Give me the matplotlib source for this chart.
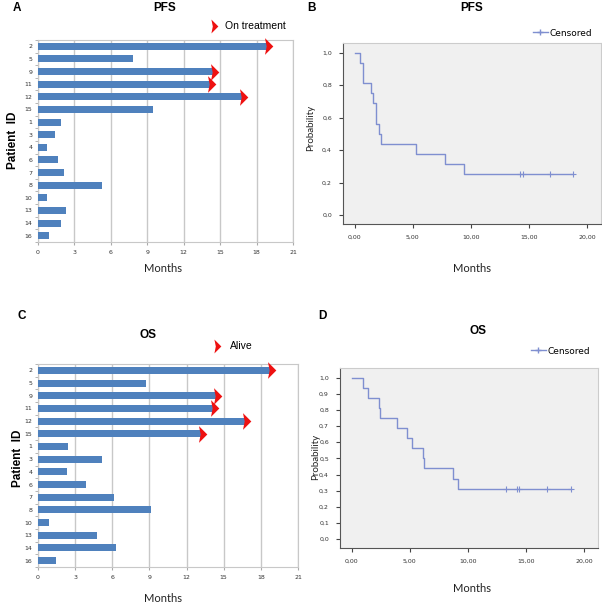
import numpy as np
import matplotlib.pyplot as plt
from matplotlib.path import Path
from matplotlib.lines import Line2D

# swimmer plot data (months)
patient_ids = ['2', '5', '9', '11', '12', '15', '1', '3', '4', '6', '7', '8', '10', '13', '14', '16']
pfs_months = [18.85, 7.84, 14.45, 14.2, 16.8, 9.44, 1.87, 1.4, 0.74, 1.65, 2.12, 5.31, 0.74, 2.31, 1.87, 0.94]
pfs_ongoing = [True, False, True, True, True, False, False, False, False, False, False, False, False, False, False, False]
os_months = [18.7, 8.72, 14.39, 14.1, 16.73, 13.17, 2.4, 5.16, 2.35, 3.91, 6.15, 9.12, 0.92, 4.78, 6.26, 1.46]
os_alive = [True, False, True, True, True, True, False, False, False, False, False, False, False, False, False, False]

# Kaplan-Meier step curves
km_pfs_t = [0, 0.49, 0.71, 1.4, 1.6, 1.86, 2.09, 2.29, 5.26, 7.8, 9.37, 18.77]
km_pfs_s = [1.0, 0.9375, 0.8125, 0.75, 0.6875, 0.5625, 0.5, 0.4375, 0.375, 0.3125, 0.25, 0.25]
km_pfs_cens = [14.26, 14.49, 16.77, 18.77]

km_os_t = [0, 0.94, 1.43, 2.34, 2.4, 3.89, 4.8, 5.2, 6.14, 6.23, 8.69, 9.14, 18.86]
km_os_s = [1.0, 0.9375, 0.875, 0.8125, 0.75, 0.6875, 0.625, 0.5625, 0.5, 0.4375, 0.375, 0.3125, 0.3125]
km_os_cens = [13.31, 14.23, 14.43, 16.8, 18.86]

BAR = '#4f81bd'
KM = '#7f8fd0'
RED = '#ee1111'

chevron = Path([(-0.3, 1), (0.7, 0), (-0.3, -1), (-0.1, 0), (-0.3, 1)],
               [Path.MOVETO, Path.LINETO, Path.LINETO, Path.LINETO, Path.CLOSEPOLY])

W, H = 602, 603


def rect(x0, y0, x1, y1):
    return [x0 / W, 1 - y1 / H, (x1 - x0) / W, (y1 - y0) / H]


def swimmer(fig, box, months, flags):
    ax = fig.add_axes(box)
    y = np.arange(len(patient_ids))
    ax.barh(y, months, height=0.55, color=BAR, zorder=3)
    ends = [m for m, f in zip(months, flags) if f]
    ys = [yy for yy, f in zip(y, flags) if f]
    ax.plot(ends, ys, linestyle='none', marker=chevron, markersize=12,
            color=RED, markeredgewidth=0, zorder=4, clip_on=False)
    ax.set_xlim(0, 21)
    ax.set_ylim(len(patient_ids) - 0.5, -0.5)
    ax.set_xticks(np.arange(0, 22, 3))
    ax.set_yticks(y)
    ax.set_yticklabels(patient_ids)
    ax.set_yticks(np.arange(-0.5, len(patient_ids), 1), minor=True)
    ax.tick_params(axis='both', labelsize=4.5, length=2, color='#aaaaaa', labelcolor='#333333', pad=4)
    ax.tick_params(axis='y', which='minor', length=2, color='#aaaaaa')
    ax.tick_params(axis='y', which='major', length=0)
    ax.grid(axis='x', color='#c8c8c8', linewidth=1, zorder=0)
    for s in ax.spines.values():
        s.set_color('#c8c8c8')
    return ax


def km_plot(fig, box, t, s, cens, cens_level, yticks, ylabels):
    ax = fig.add_axes(box)
    ax.set_facecolor('#f0f0f0')
    ax.step(t, s, where='post', color=KM, linewidth=1)
    ax.plot(cens, [cens_level] * len(cens), linestyle='none', marker='+',
            markersize=4, color=KM, markeredgewidth=0.8)
    ax.set_xlim(-1.0, 21.2)
    ax.set_ylim(-0.055, 1.06)
    ax.set_xticks([0, 5, 10, 15, 20])
    ax.set_xticklabels(['0,00', '5,00', '10,00', '15,00', '20,00'])
    ax.set_yticks(yticks)
    ax.set_yticklabels(ylabels)
    ax.tick_params(labelsize=4.5, length=3, width=0.8, color='#444444', labelcolor='#333333', pad=5)
    for s_ in ax.spines.values():
        s_.set_color('#555555')
        s_.set_linewidth(0.8)
    ax.spines['top'].set_color('#cccccc')
    ax.spines['right'].set_color('#cccccc')
    return ax


fig = plt.figure(figsize=(6.02, 6.03), dpi=100)
fig.patch.set_facecolor('white')

bold = dict(family='Liberation Sans', fontweight='bold', fontsize=8.5, ha='center', va='center')
lbl = dict(family='Lato', fontsize=8, ha='center', va='center', color='#222222')

# A: PFS swimmer
axA = swimmer(fig, rect(38, 40, 293, 242), pfs_months, pfs_ongoing)
fig.text(17 / W, 1 - 8 / H, 'A', **bold)
fig.text(165 / W, 1 - 8 / H, 'PFS', **bold)
fig.text(163 / W, 1 - 268 / H, 'Months', **lbl)
fig.text(13 / W, 1 - 140 / H, 'Patient  ID', rotation=90, **bold)
fig.add_artist(Line2D([213 / W], [1 - 26 / H], marker=chevron, markersize=10, color=RED,
                      markeredgewidth=0, transform=fig.transFigure))
fig.text(225 / W, 1 - 26 / H, 'On treatment', family='Liberation Sans', fontsize=7.5, va='center')

# C: OS swimmer
axC = swimmer(fig, rect(38, 364, 298, 567), os_months, os_alive)
fig.text(22 / W, 1 - 316 / H, 'C', **bold)
fig.text(148 / W, 1 - 335 / H, 'OS', **bold)
fig.text(163 / W, 1 - 598 / H, 'Months', **lbl)
fig.text(18 / W, 1 - 458 / H, 'Patient  ID', rotation=90, **bold)
fig.add_artist(Line2D([216 / W], [1 - 346 / H], marker=chevron, markersize=10, color=RED,
                      markeredgewidth=0, transform=fig.transFigure))
fig.text(230 / W, 1 - 346 / H, 'Alive', family='Liberation Sans', fontsize=7.5, va='center')

# B: PFS Kaplan-Meier
axB = km_plot(fig, rect(343, 43, 601, 224), km_pfs_t, km_pfs_s, km_pfs_cens, 0.25,
              [0, 0.2, 0.4, 0.6, 0.8, 1.0], ['0,0', '0,2', '0,4', '0,6', '0,8', '1,0'])
fig.text(311 / W, 1 - 8 / H, 'B', **bold)
fig.text(472 / W, 1 - 8 / H, 'PFS', **bold)
fig.text(472 / W, 1 - 268 / H, 'Months', **lbl)
fig.text(311 / W, 1 - 128 / H, 'Probability', rotation=90, family='Lato', fontsize=7,
         ha='center', va='center', color='#222222')
axB.legend(handles=[Line2D([], [], color=KM, marker='+', markersize=4, linewidth=1)],
           labels=['Censored'], frameon=False, fontsize=6.5, handlelength=1.6,
           handletextpad=0.2, loc='center left',
           bbox_to_anchor=(525 / W, 1 - 33 / H), bbox_transform=fig.transFigure)

# D: OS Kaplan-Meier
axD = km_plot(fig, rect(340, 368, 598, 548), km_os_t, km_os_s, km_os_cens, 0.3125,
              np.round(np.arange(0, 1.01, 0.1), 1),
              ['0,0', '0,1', '0,2', '0,3', '0,4', '0,5', '0,6', '0,7', '0,8', '0,9', '1,0'])
fig.text(322 / W, 1 - 316 / H, 'D', **bold)
fig.text(478 / W, 1 - 331 / H, 'OS', **bold)
fig.text(472 / W, 1 - 589 / H, 'Months', **lbl)
fig.text(316 / W, 1 - 457 / H, 'Probability', rotation=90, family='Lato', fontsize=7,
         ha='center', va='center', color='#222222')
axD.legend(handles=[Line2D([], [], color=KM, marker='+', markersize=4, linewidth=1)],
           labels=['Censored'], frameon=False, fontsize=6.5, handlelength=1.6,
           handletextpad=0.2, loc='center left',
           bbox_to_anchor=(523 / W, 1 - 351 / H), bbox_transform=fig.transFigure)

fig.savefig('out.png', dpi=100)
